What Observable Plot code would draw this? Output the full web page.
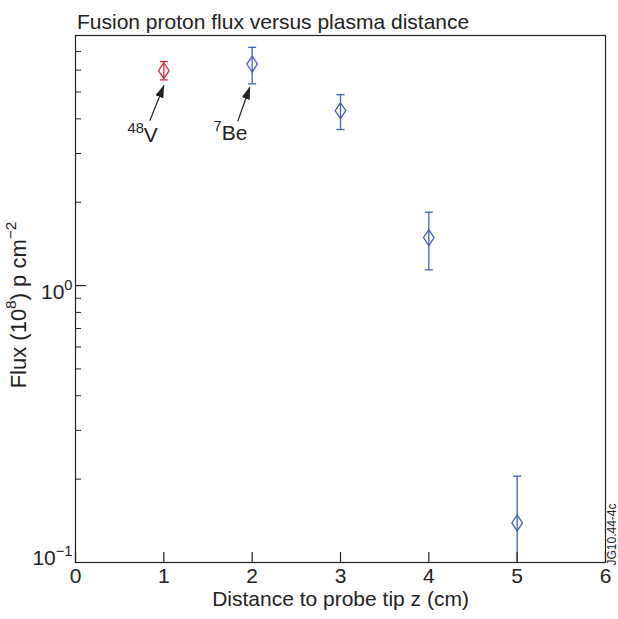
<!DOCTYPE html>
<html>
<head>
<meta charset="utf-8">
<script src="https://cdn.jsdelivr.net/npm/d3@7"></script>
<script src="https://cdn.jsdelivr.net/npm/@observablehq/plot@0.6"></script>
<style>
  html, body { margin: 0; padding: 0; background: #fff; }
  #chart { width: 618px; height: 619px; }
</style>
</head>
<body>
<div id="chart"></div>
<script>
// ---- data ----
const distance = [1, 2, 3, 4, 5];
const flux     = [5.97, 6.31, 4.28, 1.49, 0.139];
const fluxLow  = [5.53, 5.35, 3.66, 1.14, 0.1];
const fluxHigh = [6.44, 7.25, 4.89, 1.84, 0.205];
const isotope  = ["48V", "7Be", "7Be", "7Be", "7Be"];

const xTicks = [0, 1, 2, 3, 4, 5, 6];
const yTickValues = [0.1, 1];
const yTickText = ["10^{\u22121}", "10^{0}"];
const yMinorTicks = [0.2, 0.3, 0.4, 0.5, 0.6, 0.7, 0.8, 0.9, 2, 3, 4, 5, 6, 7];
const yDomain = [0.1, 8];
const xDomain = [0, 6];

const annoText = ["^{48}V", "^{7}Be"];
const annoX = [0.589, 1.562];
const annoY = [3.49, 3.54];
const arrowFromX = [0.841, 1.837];
const arrowFromY = [3.94, 3.92];
const arrowToX = [1.0, 1.973];
const arrowToY = [5.27, 5.20];

const titleText = "Fusion proton flux versus plasma distance";
const xLabelText = "Distance to probe tip z (cm)";
const yLabelText = "Flux (10^{8}) p cm^{\u22122}";
const idText = "JG10.44-4c";

const isotopeColor = {"48V": "#d62f3c", "7Be": "#4262b6"};

// ---- layout ----
const W = 618, H = 619;
const mL = 75, mR = 13, mT = 35, mB = 57;
const plotW = W - mL - mR, plotH = H - mT - mB;

const points = distance.map((d, i) => ({x: d, y: flux[i], lo: fluxLow[i], hi: fluxHigh[i], iso: isotope[i]}));
const annos = annoText.map((t, i) => ({t, x: annoX[i], y: annoY[i]}));
const arrows = arrowFromX.map((d, i) => ({x1: d, y1: arrowFromY[i], x2: arrowToX[i], y2: arrowToY[i]}));

// tall diamond and cap symbols
const diamond = {
  draw(ctx, size) {
    const r = Math.sqrt(size / Math.PI);
    const h = r * 1.5;
    ctx.moveTo(0, -h); ctx.lineTo(r, 0); ctx.lineTo(0, h); ctx.lineTo(-r, 0); ctx.closePath();
  }
};
const cap = {
  draw(ctx, size) {
    const r = Math.sqrt(size / Math.PI);
    ctx.moveTo(-r, 0); ctx.lineTo(r, 0);
  }
};
const colorOf = d => isotopeColor[d.iso];
const ink = "#222";

const plot = Plot.plot({
  width: W, height: H,
  marginLeft: mL, marginRight: mR, marginTop: mT, marginBottom: mB,
  style: {fontFamily: "'Liberation Sans', Arial, Helvetica, sans-serif", fontSize: "21px", color: ink, background: "#fff"},
  x: {domain: xDomain},
  y: {type: "log", domain: yDomain},
  marks: [
    Plot.ruleX(points, {x: "x", y1: "lo", y2: "hi", stroke: colorOf, strokeWidth: 1.3}),
    Plot.dot(points.filter(d => d.lo > yDomain[0]), {x: "x", y: "lo", symbol: cap, r: 4, stroke: colorOf, strokeWidth: 1.3}),
    Plot.dot(points, {x: "x", y: "hi", symbol: cap, r: 4, stroke: colorOf, strokeWidth: 1.3}),
    Plot.dot(points, {x: "x", y: "y", symbol: diamond, r: 5.3, stroke: colorOf, fill: "none", strokeWidth: 1.3}),
    Plot.frame({stroke: ink, strokeWidth: 1.2}),
    Plot.tickX(xTicks, {x: d => d, insetTop: plotH - 10, stroke: ink, strokeWidth: 1.2}),
    Plot.tickY(yMinorTicks, {y: d => d, insetRight: plotW - 6, stroke: ink, strokeWidth: 1}),
    Plot.tickY([1], {y: d => d, insetRight: plotW - 11, stroke: ink, strokeWidth: 1.2}),
    Plot.axisX(xTicks, {tickSize: 0, tickPadding: 6, fontSize: 21, label: null, tickFormat: d => String(d)}),
    Plot.axisY([yTickValues[1]], {tickSize: 0, tickPadding: 3, fontSize: 21, label: null, dy: 7,
      tickFormat: v => yTickText[yTickValues.indexOf(v)]}),
    Plot.axisY([yTickValues[0]], {tickSize: 0, tickPadding: 3, fontSize: 21, label: null, dy: -4.5,
      tickFormat: v => yTickText[yTickValues.indexOf(v)]}),
    Plot.text([titleText], {frameAnchor: "top-left", textAnchor: "start", lineAnchor: "middle", dx: 1.5, dy: -13.5, fontSize: 21, fill: ink}),
    Plot.text([xLabelText], {frameAnchor: "bottom", textAnchor: "middle", lineAnchor: "top", dy: 29, fontSize: 21, fill: ink}),
    Plot.text([yLabelText], {frameAnchor: "left", textAnchor: "middle", rotate: -90, lineAnchor: "middle", dx: -57, dy: 6, fontSize: 22, fill: ink}),
    Plot.text([idText], {frameAnchor: "bottom-right", rotate: -90, textAnchor: "start", lineAnchor: "middle", dx: 7, dy: 3, fontSize: 12, fill: ink}),
    Plot.text(annos, {x: "x", y: "y", text: "t", textAnchor: "start", lineAnchor: "middle", fontSize: 21, fill: ink}),
    Plot.link(arrows, {x1: "x1", y1: "y1", x2: "x2", y2: "y2", stroke: ink, strokeWidth: 1.2})
  ]
});

document.getElementById("chart").appendChild(plot);

// superscripts: "a^{b}c" -> tspans
d3.select(plot).selectAll("text").each(function () {
  const el = this;
  const s = el.textContent;
  if (!s.includes("^{")) return;
  const fs = parseFloat(getComputedStyle(el).fontSize) || 21;
  const parts = [];
  const re = /\^\{([^}]*)\}/g;
  let last = 0, m;
  while ((m = re.exec(s))) {
    if (m.index > last) parts.push({text: s.slice(last, m.index), sup: false});
    parts.push({text: m[1], sup: true});
    last = re.lastIndex;
  }
  if (last < s.length) parts.push({text: s.slice(last), sup: false});
  el.textContent = "";
  const raise = fs * 0.42;
  let raised = false;
  for (const p of parts) {
    const t = d3.select(el).append("tspan").text(p.text);
    if (p.sup) { t.attr("font-size", fs * 0.7).attr("dy", raised ? 0 : -raise); raised = true; }
    else if (raised) { t.attr("dy", raise); raised = false; }
  }
});

// filled arrow heads
const svg = d3.select(plot);
const defs = svg.insert("defs", ":first-child");
defs.append("marker")
  .attr("id", "filled-arrow")
  .attr("viewBox", "0 -5 13 10")
  .attr("refX", 12).attr("refY", 0)
  .attr("markerUnits", "userSpaceOnUse")
  .attr("markerWidth", 13).attr("markerHeight", 10)
  .attr("orient", "auto")
  .append("path").attr("d", "M0,-4.2L13,0L0,4.2Z").attr("fill", ink);
svg.selectAll('g[aria-label="link"] path').attr("marker-end", "url(#filled-arrow)");
</script>
</body>
</html>
